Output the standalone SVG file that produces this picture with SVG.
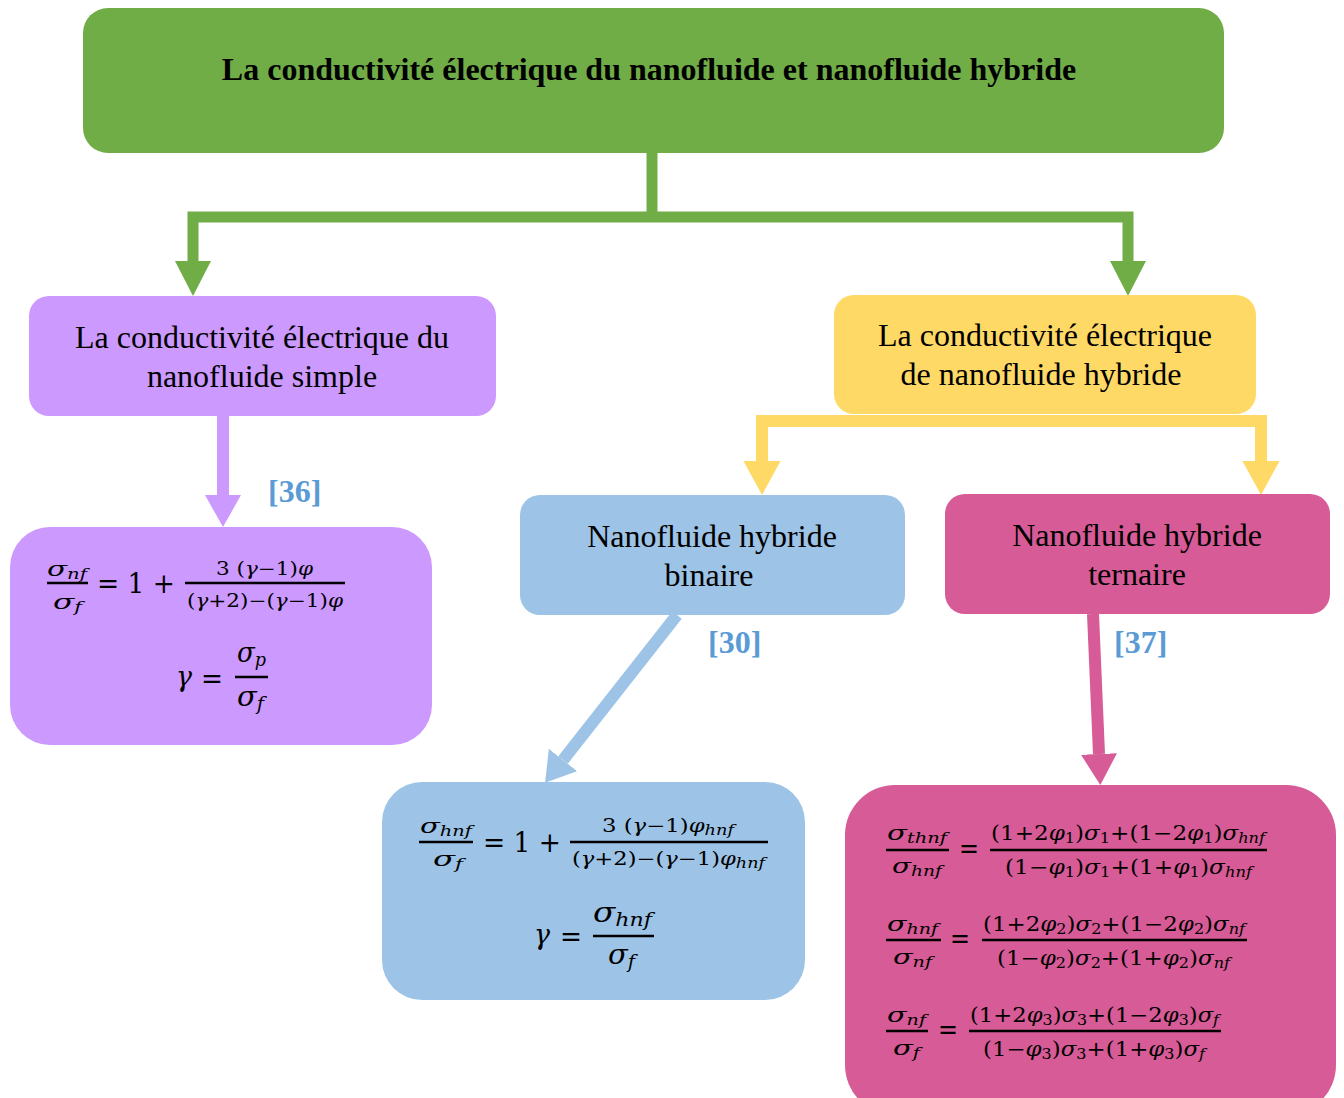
<svg xmlns="http://www.w3.org/2000/svg" width="1344" height="1098" viewBox="0 0 1344 1098">
<style>
.lbl{font-family:"Liberation Serif","Times New Roman",serif;font-size:32px;fill:#000;text-anchor:middle}
.ttl{font-family:"Liberation Serif","Times New Roman",serif;font-size:32px;font-weight:bold;fill:#000;text-anchor:middle}
.ref{font-family:"Liberation Serif","Times New Roman",serif;font-size:32px;font-weight:bold;fill:#5B9BD5}
.f{font-family:"DejaVu Serif","Liberation Serif",serif;fill:#000}
.i{font-style:italic}
.s{font-size:14px}
.bar{stroke:#000;stroke-width:2.4}
.cg{fill:none;stroke:#70AD47;stroke-width:11}
.cy{fill:none;stroke:#FFD966;stroke-width:12}
.cp{fill:none;stroke:#CC99FF;stroke-width:12}
.cb{fill:none;stroke:#9DC3E6;stroke-width:12}
.ck{fill:none;stroke:#D65B96;stroke-width:12}
</style>
<defs>
<marker id="ag" markerUnits="userSpaceOnUse" markerWidth="36" markerHeight="38" refX="0" refY="18" orient="auto" viewBox="0 0 36 38"><path d="M0,0 L35,18 L0,36 z" fill="#70AD47"/></marker>
<marker id="ay" markerUnits="userSpaceOnUse" markerWidth="36" markerHeight="38" refX="0" refY="18.5" orient="auto" viewBox="0 0 36 38"><path d="M0,0 L34,18.5 L0,37 z" fill="#FFD966"/></marker>
<marker id="ap" markerUnits="userSpaceOnUse" markerWidth="34" markerHeight="38" refX="0" refY="18" orient="auto" viewBox="0 0 34 38"><path d="M0,0 L32,18 L0,36 z" fill="#CC99FF"/></marker>
<marker id="ab" markerUnits="userSpaceOnUse" markerWidth="32" markerHeight="38" refX="0" refY="18" orient="auto" viewBox="0 0 32 38"><path d="M0,0 L29,18 L0,36 z" fill="#9DC3E6"/></marker>
<marker id="ak" markerUnits="userSpaceOnUse" markerWidth="34" markerHeight="38" refX="0" refY="18" orient="auto" viewBox="0 0 34 38"><path d="M0,0 L31,18 L0,36 z" fill="#D65B96"/></marker>
</defs>

<g id="connectors">
<path class="cg" d="M652,153 V217"/>
<path class="cg" d="M652,217 H193 V261" marker-end="url(#ag)"/>
<path class="cg" d="M652,217 H1128 V261" marker-end="url(#ag)"/>
<path class="cp" d="M223,416 V495" marker-end="url(#ap)"/>
<path class="cy" d="M1012,421 H762 V461" marker-end="url(#ay)"/>
<path class="cy" d="M1012,421 H1261 V461" marker-end="url(#ay)"/>
<path class="cb" d="M677,615 L563,760" marker-end="url(#ab)"/>
<path class="ck" d="M1093,614 L1099,754" marker-end="url(#ak)"/>
<text class="ref" x="268" y="502">[36]</text>
<text class="ref" x="708" y="653">[30]</text>
<text class="ref" x="1114" y="653">[37]</text>
</g>

<g id="title">
<rect x="83" y="8" width="1141" height="145" rx="25" fill="#70AD47"/>
<text class="ttl" x="649" y="80">La conductivité électrique du nanofluide et nanofluide hybride</text>
</g>

<g id="simple">
<rect x="29" y="296" width="467" height="120" rx="20" fill="#CC99FF"/>
<text class="lbl" x="262" y="348">La conductivité électrique du</text>
<text class="lbl" x="262" y="387">nanofluide simple</text>
</g>

<g id="hybride">
<rect x="834" y="295" width="422" height="119" rx="20" fill="#FFD966"/>
<text class="lbl" x="1045" y="346">La conductivité électrique</text>
<text class="lbl" x="1041" y="385">de nanofluide hybride</text>
</g>

<g id="binaire">
<rect x="520" y="495" width="385" height="120" rx="20" fill="#9DC3E6"/>
<text class="lbl" x="712" y="547">Nanofluide hybride</text>
<text class="lbl" x="709" y="586">binaire</text>
</g>

<g id="ternaire">
<rect x="945" y="494" width="385" height="120" rx="20" fill="#D65B96"/>
<text class="lbl" x="1137" y="546">Nanofluide hybride</text>
<text class="lbl" x="1137" y="585">ternaire</text>
</g>

<g id="eq-simple">
<rect x="10" y="527" width="422" height="218" rx="40" fill="#CC99FF"/>
<text class="f" x="47" y="576" font-size="21" textLength="40" lengthAdjust="spacingAndGlyphs"><tspan class="i">σ</tspan><tspan class="i s" dy="3">nf</tspan></text>
<line class="bar" x1="47" y1="583" x2="88" y2="583"/>
<text class="f" x="53" y="609" font-size="21" textLength="29" lengthAdjust="spacingAndGlyphs"><tspan class="i">σ</tspan><tspan class="i s" dy="3">f</tspan></text>
<text class="f" x="97" y="593" font-size="28" textLength="78" lengthAdjust="spacingAndGlyphs">= 1 +</text>
<text class="f" x="216" y="575" font-size="18" textLength="97" lengthAdjust="spacingAndGlyphs">3 (<tspan class="i">γ</tspan>−1)<tspan class="i">φ</tspan></text>
<line class="bar" x1="185" y1="583" x2="345" y2="583"/>
<text class="f" x="187" y="607" font-size="18" textLength="156" lengthAdjust="spacingAndGlyphs">(<tspan class="i">γ</tspan>+2)−(<tspan class="i">γ</tspan>−1)<tspan class="i">φ</tspan></text>
<text class="f i" x="176" y="686" font-size="28" textLength="16" lengthAdjust="spacingAndGlyphs">γ</text>
<text class="f" x="201" y="688" font-size="28" textLength="22" lengthAdjust="spacingAndGlyphs">=</text>
<text class="f" x="237" y="662" font-size="28" textLength="29" lengthAdjust="spacingAndGlyphs"><tspan class="i">σ</tspan><tspan class="i" font-size="19" dy="4">p</tspan></text>
<line class="bar" x1="235" y1="677" x2="268" y2="677"/>
<text class="f" x="237" y="706" font-size="28" textLength="27" lengthAdjust="spacingAndGlyphs"><tspan class="i">σ</tspan><tspan class="i" font-size="19" dy="4">f</tspan></text>
</g>

<g id="eq-binaire">
<rect x="382" y="782" width="423" height="218" rx="40" fill="#9DC3E6"/>
<text class="f" x="420" y="833" font-size="21" textLength="52" lengthAdjust="spacingAndGlyphs"><tspan class="i">σ</tspan><tspan class="i s" dy="3">hnf</tspan></text>
<line class="bar" x1="419" y1="842" x2="473" y2="842"/>
<text class="f" x="433" y="866" font-size="21" textLength="30" lengthAdjust="spacingAndGlyphs"><tspan class="i">σ</tspan><tspan class="i s" dy="3">f</tspan></text>
<text class="f" x="483" y="852" font-size="28" textLength="78" lengthAdjust="spacingAndGlyphs">= 1 +</text>
<text class="f" x="602" y="832" font-size="18" textLength="132" lengthAdjust="spacingAndGlyphs">3 (<tspan class="i">γ</tspan>−1)<tspan class="i">φ</tspan><tspan class="i s" dy="3">hnf</tspan></text>
<line class="bar" x1="570" y1="842" x2="768" y2="842"/>
<text class="f" x="572" y="865" font-size="18" textLength="193" lengthAdjust="spacingAndGlyphs">(<tspan class="i">γ</tspan>+2)−(<tspan class="i">γ</tspan>−1)<tspan class="i">φ</tspan><tspan class="i s" dy="3">hnf</tspan></text>
<text class="f i" x="534" y="944" font-size="28" textLength="16" lengthAdjust="spacingAndGlyphs">γ</text>
<text class="f" x="560" y="946" font-size="28" textLength="22" lengthAdjust="spacingAndGlyphs">=</text>
<text class="f" x="593" y="922" font-size="28" textLength="59" lengthAdjust="spacingAndGlyphs"><tspan class="i">σ</tspan><tspan class="i" font-size="19" dy="4">hnf</tspan></text>
<line class="bar" x1="593" y1="936" x2="654" y2="936"/>
<text class="f" x="608" y="964" font-size="28" textLength="27" lengthAdjust="spacingAndGlyphs"><tspan class="i">σ</tspan><tspan class="i" font-size="19" dy="4">f</tspan></text>
</g>

<g id="eq-ternaire">
<rect x="845" y="785" width="491" height="330" rx="50" fill="#D65B96"/>
<text class="f" x="887" y="840" font-size="21" textLength="60" lengthAdjust="spacingAndGlyphs"><tspan class="i">σ</tspan><tspan class="i s" dy="3">thnf</tspan></text>
<line class="bar" x1="886" y1="850" x2="949" y2="850"/>
<text class="f" x="892" y="873" font-size="21" textLength="50" lengthAdjust="spacingAndGlyphs"><tspan class="i">σ</tspan><tspan class="i s" dy="3">hnf</tspan></text>
<text class="f" x="959" y="858" font-size="28" textLength="20" lengthAdjust="spacingAndGlyphs">=</text>
<text class="f" x="991" y="840" font-size="20" textLength="274" lengthAdjust="spacingAndGlyphs">(1+2<tspan class="i">φ</tspan><tspan class="s" dy="3">1</tspan><tspan dy="-3">)</tspan><tspan class="i">σ</tspan><tspan class="s" dy="3">1</tspan><tspan dy="-3">+(1−2</tspan><tspan class="i">φ</tspan><tspan class="s" dy="3">1</tspan><tspan dy="-3">)</tspan><tspan class="i">σ</tspan><tspan class="i s" dy="3">hnf</tspan></text>
<line class="bar" x1="990" y1="850" x2="1267" y2="850"/>
<text class="f" x="1005" y="874" font-size="20" textLength="247" lengthAdjust="spacingAndGlyphs">(1−<tspan class="i">φ</tspan><tspan class="s" dy="3">1</tspan><tspan dy="-3">)</tspan><tspan class="i">σ</tspan><tspan class="s" dy="3">1</tspan><tspan dy="-3">+(1+</tspan><tspan class="i">φ</tspan><tspan class="s" dy="3">1</tspan><tspan dy="-3">)</tspan><tspan class="i">σ</tspan><tspan class="i s" dy="3">hnf</tspan></text>

<text class="f" x="887" y="931" font-size="21" textLength="51" lengthAdjust="spacingAndGlyphs"><tspan class="i">σ</tspan><tspan class="i s" dy="3">hnf</tspan></text>
<line class="bar" x1="886" y1="940" x2="941" y2="940"/>
<text class="f" x="893" y="964" font-size="21" textLength="39" lengthAdjust="spacingAndGlyphs"><tspan class="i">σ</tspan><tspan class="i s" dy="3">nf</tspan></text>
<text class="f" x="950" y="948" font-size="28" textLength="20" lengthAdjust="spacingAndGlyphs">=</text>
<text class="f" x="983" y="931" font-size="20" textLength="262" lengthAdjust="spacingAndGlyphs">(1+2<tspan class="i">φ</tspan><tspan class="s" dy="3">2</tspan><tspan dy="-3">)</tspan><tspan class="i">σ</tspan><tspan class="s" dy="3">2</tspan><tspan dy="-3">+(1−2</tspan><tspan class="i">φ</tspan><tspan class="s" dy="3">2</tspan><tspan dy="-3">)</tspan><tspan class="i">σ</tspan><tspan class="i s" dy="3">nf</tspan></text>
<line class="bar" x1="982" y1="940" x2="1247" y2="940"/>
<text class="f" x="997" y="965" font-size="20" textLength="233" lengthAdjust="spacingAndGlyphs">(1−<tspan class="i">φ</tspan><tspan class="s" dy="3">2</tspan><tspan dy="-3">)</tspan><tspan class="i">σ</tspan><tspan class="s" dy="3">2</tspan><tspan dy="-3">+(1+</tspan><tspan class="i">φ</tspan><tspan class="s" dy="3">2</tspan><tspan dy="-3">)</tspan><tspan class="i">σ</tspan><tspan class="i s" dy="3">nf</tspan></text>

<text class="f" x="887" y="1022" font-size="21" textLength="39" lengthAdjust="spacingAndGlyphs"><tspan class="i">σ</tspan><tspan class="i s" dy="3">nf</tspan></text>
<line class="bar" x1="886" y1="1031" x2="928" y2="1031"/>
<text class="f" x="893" y="1055" font-size="21" textLength="27" lengthAdjust="spacingAndGlyphs"><tspan class="i">σ</tspan><tspan class="i s" dy="3">f</tspan></text>
<text class="f" x="938" y="1039" font-size="28" textLength="20" lengthAdjust="spacingAndGlyphs">=</text>
<text class="f" x="970" y="1022" font-size="20" textLength="249" lengthAdjust="spacingAndGlyphs">(1+2<tspan class="i">φ</tspan><tspan class="s" dy="3">3</tspan><tspan dy="-3">)</tspan><tspan class="i">σ</tspan><tspan class="s" dy="3">3</tspan><tspan dy="-3">+(1−2</tspan><tspan class="i">φ</tspan><tspan class="s" dy="3">3</tspan><tspan dy="-3">)</tspan><tspan class="i">σ</tspan><tspan class="i s" dy="3">f</tspan></text>
<line class="bar" x1="969" y1="1031" x2="1221" y2="1031"/>
<text class="f" x="983" y="1056" font-size="20" textLength="222" lengthAdjust="spacingAndGlyphs">(1−<tspan class="i">φ</tspan><tspan class="s" dy="3">3</tspan><tspan dy="-3">)</tspan><tspan class="i">σ</tspan><tspan class="s" dy="3">3</tspan><tspan dy="-3">+(1+</tspan><tspan class="i">φ</tspan><tspan class="s" dy="3">3</tspan><tspan dy="-3">)</tspan><tspan class="i">σ</tspan><tspan class="i s" dy="3">f</tspan></text>
</g>
</svg>
